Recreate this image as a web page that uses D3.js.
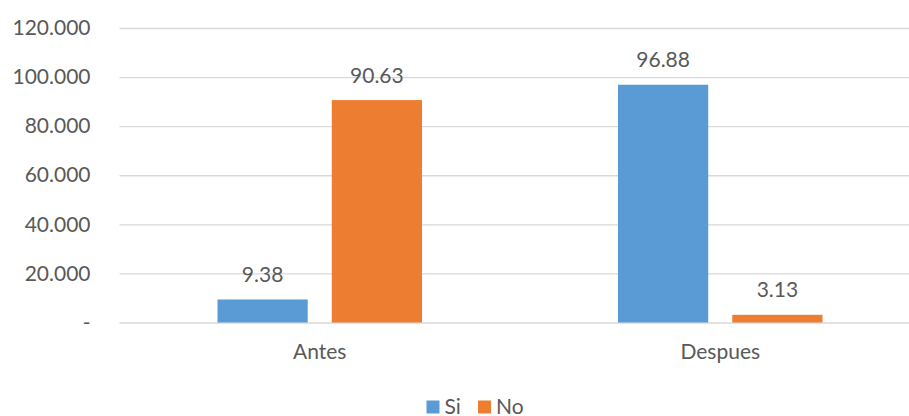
<!DOCTYPE html>
<html>
<head>
<meta charset="utf-8">
<script src="https://cdn.jsdelivr.net/npm/d3@7"></script>
<style>
  html, body { margin: 0; padding: 0; background: #fff; }
  svg { display: block; font-family: Lato, "Open Sans", sans-serif; }
</style>
</head>
<body>
<svg id="chart" width="909" height="416"></svg>
<script>
// Survey answers before and after, in percent
const categories = ["Antes", "Despues"];
const seriesNames = ["Si", "No"];
const siValues = [9.38, 96.88];
const noValues = [90.63, 3.13];
const tickValues = [0, 20, 40, 60, 80, 100, 120];
const tickLabels = ["-", "20.000", "40.000", "60.000", "80.000", "100.000", "120.000"];
const colors = ["#5B9BD5", "#ED7D31"];

const valuesBySeries = [siValues, noValues];
const rows = categories.map((c, i) => ({
  category: c,
  values: seriesNames.map((s, j) => ({ series: s, value: valuesBySeries[j][i], color: colors[j] }))
}));

const svg = d3.select("#chart");
const textColor = "#595959";
const fontSize = 21;

const plotLeft = 119.5, plotRight = 920.5, plotTop = 28, plotBottom = 322.5;

const y = d3.scaleLinear().domain([0, 120]).range([plotBottom, plotTop]);
const x0 = d3.scaleBand().domain(categories).range([plotLeft, plotRight]).padding(0);
const groupInset = 98;
const x1 = d3.scaleBand().domain(seriesNames)
  .range([groupInset, x0.bandwidth() - groupInset])
  .paddingInner(24 / 114).paddingOuter(0);

// Horizontal gridlines with their labels
const yAxis = d3.axisLeft(y)
  .tickValues(tickValues)
  .tickFormat((d, i) => tickLabels[i])
  .tickSize(-(plotRight - plotLeft))
  .tickPadding(29);

const gy = svg.append("g")
  .attr("transform", `translate(${plotLeft},0)`)
  .call(yAxis);
gy.select(".domain").remove();
gy.selectAll(".tick line").attr("stroke", "#D9D9D9").attr("stroke-width", 1.3);
gy.selectAll(".tick text")
  .attr("fill", textColor)
  .attr("font-size", fontSize)
  .attr("font-family", "Lato, 'Open Sans', sans-serif");

// Bars
const groups = svg.append("g").selectAll("g")
  .data(rows)
  .join("g")
  .attr("transform", d => `translate(${x0(d.category)},0)`);

groups.selectAll("rect")
  .data(d => d.values)
  .join("rect")
  .attr("x", d => x1(d.series))
  .attr("y", d => y(d.value))
  .attr("width", x1.bandwidth())
  .attr("height", d => y(0) - y(d.value))
  .attr("fill", d => d.color);

// Value labels above bars
groups.selectAll("text.value")
  .data(d => d.values)
  .join("text")
  .attr("class", "value")
  .attr("x", d => x1(d.series) + x1.bandwidth() / 2)
  .attr("y", d => y(d.value) - 17.5)
  .attr("text-anchor", "middle")
  .attr("fill", textColor)
  .attr("font-size", fontSize)
  .text(d => d.value.toFixed(2));

// Category axis labels
const xAxis = d3.axisBottom(x0).tickSize(0).tickPadding(22);
const gx = svg.append("g")
  .attr("transform", `translate(0,${plotBottom})`)
  .call(xAxis);
gx.select(".domain").remove();
gx.selectAll(".tick text")
  .attr("fill", textColor)
  .attr("font-size", fontSize)
  .attr("font-family", "Lato, 'Open Sans', sans-serif");

// Legend
const legendItems = [
  { name: seriesNames[0], color: colors[0], x: 426.5 },
  { name: seriesNames[1], color: colors[1], x: 478 }
];
const legend = svg.append("g");
const li = legend.selectAll("g").data(legendItems).join("g")
  .attr("transform", d => `translate(${d.x},400.5)`);
li.append("rect").attr("width", 13).attr("height", 13).attr("fill", d => d.color);
li.append("text")
  .attr("x", 18)
  .attr("y", 13)
  .attr("fill", textColor)
  .attr("font-size", fontSize)
  .text(d => d.name);
</script>
</body>
</html>
